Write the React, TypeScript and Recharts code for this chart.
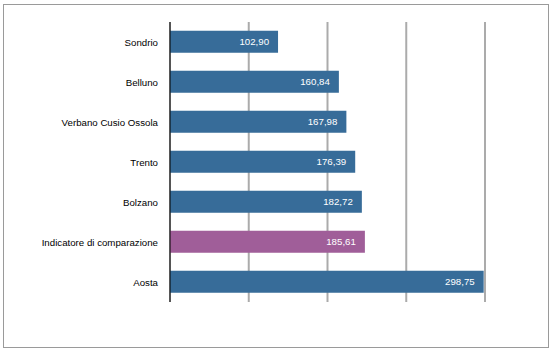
import React from "react";
import { BarChart, Bar, XAxis, YAxis, CartesianGrid, Cell, LabelList } from "recharts";

const CATEGORIES = [
  "Sondrio",
  "Belluno",
  "Verbano Cusio Ossola",
  "Trento",
  "Bolzano",
  "Indicatore di comparazione",
  "Aosta",
];
const VALUES = [102.9, 160.84, 167.98, 176.39, 182.72, 185.61, 298.75];
const HIGHLIGHT = "Indicatore di comparazione";
const X_TICKS = [0, 75, 150, 225, 300];

const BLUE = "#376c99";
const PURPLE = "#a05e99";

const data = CATEGORIES.map((name, i) => ({ name, value: VALUES[i] }));

const fmt = (v: any) => Number(v).toFixed(2).replace(".", ",");

// plain text tick so long names stay on one line
const CategoryTick = (props: any) => {
  const { x, y, payload } = props;
  return (
    <text x={x} y={y} dy={4} textAnchor="end" fontSize={9.7} fill="#000">
      {payload.value}
    </text>
  );
};

export default function App() {
  return (
    <div
      style={{
        position: "absolute",
        left: 0,
        top: 0,
        width: 556,
        height: 356,
        background: "#fff",
        fontFamily: "'Liberation Sans', Arial, sans-serif",
      }}
    >
      <div
        style={{
          position: "absolute",
          left: 3,
          top: 4,
          width: 544,
          height: 342,
          border: "1px solid #9a9a9a",
        }}
      />
      <div style={{ position: "absolute", left: 0, top: 0 }}>
        <BarChart
          width={556}
          height={356}
          data={data}
          layout="vertical"
          margin={{ top: 22, right: 71, bottom: 54, left: 0 }}
          barCategoryGap="22%"
        >
          <CartesianGrid horizontal={false} vertical={true} stroke="#ababab" strokeWidth={2} />
          <XAxis type="number" domain={[0, 300]} ticks={X_TICKS} hide />
          <YAxis
            type="category"
            dataKey="name"
            width={170}
            axisLine={{ stroke: "#000", strokeWidth: 1 }}
            tickLine={false}
            tickMargin={6}
            tick={<CategoryTick />}
            interval={0}
          />
          <Bar dataKey="value" isAnimationActive={false}>
            {data.map((d) => (
              <Cell key={d.name} fill={d.name === HIGHLIGHT ? PURPLE : BLUE} />
            ))}
            <LabelList
              dataKey="value"
              position="insideRight"
              formatter={fmt}
              fill="#fff"
              fontSize={9.7}
              offset={9}
            />
          </Bar>
        </BarChart>
      </div>
    </div>
  );
}
